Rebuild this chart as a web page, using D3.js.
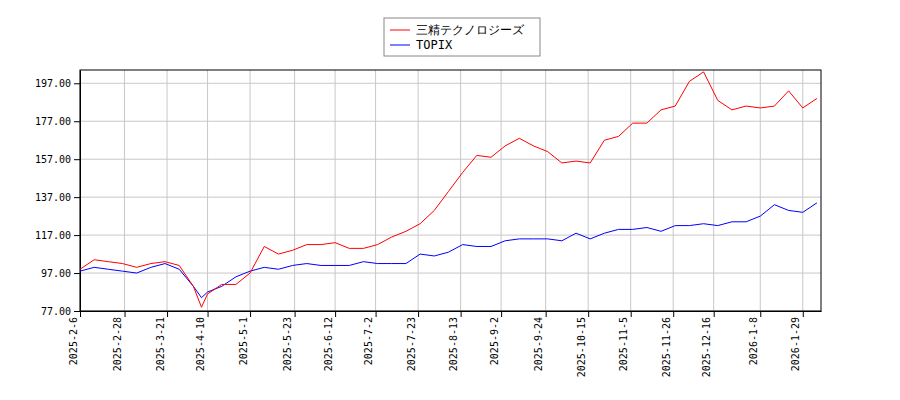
<!DOCTYPE html>
<html><head><meta charset="utf-8">
<script src="https://cdn.jsdelivr.net/npm/d3@7"></script>
<style>body{margin:0;background:#fff}text{font-family:"DejaVu Sans Mono",monospace}</style>
</head><body><div id="chart"></div>
<script>
var startDate = "2025-02-06";
var stockValues = [99,104,103,102,100,102,103,101,90,79,86,91,91,97,111,107,109,112,112,113,110,110,112,116,119,123,130,140,150,159,158,164,168,164,161,155,156,155,167,169,176,176,183,185,198,203,188,183,185,184,185,193,184,189];
var topixValues = [98,100,99,98,97,100,102,99,90,84,87,90,95,98,100,99,101,102,101,101,101,103,102,102,102,107,106,108,112,111,111,114,115,115,115,114,118,115,118,120,120,121,119,122,122,123,122,124,124,127,133,130,129,134];
var dayOffsets = [0,7,14,21,28,35,42,49,56,60,63,70,77,84,91,98,105,112,119,126,133,140,147,154,161,168,175,182,189,196,203,210,217,224,231,238,245,252,259,266,273,280,287,294,301,308,315,322,329,336,343,350,357,364];
var tickDates = ["2025-02-06","2025-02-28","2025-03-21","2025-04-10","2025-05-01","2025-05-23","2025-06-12","2025-07-02","2025-07-23","2025-08-13","2025-09-02","2025-09-24","2025-10-15","2025-11-05","2025-11-26","2025-12-16","2026-01-08","2026-01-29"];
var yTicks = [77,97,117,137,157,177,197];
var seriesNames = ["三精テクノロジーズ","TOPIX"];

var width = 900, height = 400,
    margin = {left: 80, right: 79, top: 70, bottom: 90};
var parse = d3.timeParse("%Y-%m-%d");
var t0 = parse(startDate);
var dates = dayOffsets.map(function(d){ return d3.timeDay.offset(t0, d); });

var x = d3.scaleTime()
    .domain([t0, d3.timeDay.offset(t0, 366)])
    .range([margin.left, width - margin.right]);
var y = d3.scaleLinear()
    .domain([77, 204])
    .range([height - margin.bottom + 1, margin.top]);

var svg = d3.select("#chart").append("svg")
    .attr("width", width).attr("height", height);

var xTicks = tickDates.map(parse);

svg.append("g").selectAll("line").data(xTicks).enter().append("line")
    .attr("x1", function(d){ return x(d); }).attr("x2", function(d){ return x(d); })
    .attr("y1", margin.top).attr("y2", height - margin.bottom + 1)
    .attr("stroke", "#c8c8c8");
svg.append("g").selectAll("line").data(yTicks).enter().append("line")
    .attr("x1", margin.left).attr("x2", width - margin.right)
    .attr("y1", function(d){ return y(d); }).attr("y2", function(d){ return y(d); })
    .attr("stroke", "#c8c8c8");

var fmt = function(d){ return d.getFullYear() + "-" + (d.getMonth()+1) + "-" + d.getDate(); };
var xg = svg.append("g")
    .attr("transform", "translate(0," + (height - margin.bottom + 1) + ")")
    .call(d3.axisBottom(x).tickValues(xTicks).tickFormat(fmt).tickSizeOuter(0));
xg.selectAll("text")
    .attr("transform", "rotate(-90)")
    .attr("text-anchor", "end")
    .attr("x", -6).attr("y", -4).attr("dy", 0)
    .style("font-size", "10px");

var yg = svg.append("g")
    .attr("transform", "translate(" + margin.left + ",0)")
    .call(d3.axisLeft(y).tickValues(yTicks).tickFormat(d3.format(".2f")).tickSizeOuter(0));
yg.selectAll("text").style("font-size", "10px");

svg.append("rect")
    .attr("x", margin.left).attr("y", margin.top)
    .attr("width", width - margin.left - margin.right)
    .attr("height", height - margin.bottom + 1 - margin.top)
    .attr("fill", "none").attr("stroke", "#000");

var line = d3.line()
    .x(function(d, i){ return x(dates[i]); })
    .y(function(d){ return y(d); });

svg.append("path").datum(topixValues)
    .attr("fill", "none").attr("stroke", "blue").attr("stroke-width", 1).attr("d", line);
svg.append("path").datum(stockValues)
    .attr("fill", "none").attr("stroke", "red").attr("stroke-width", 1).attr("d", line);

var lg = svg.append("g").attr("transform", "translate(384,18)");
lg.append("rect").attr("width", 156).attr("height", 38)
    .attr("fill", "#fff").attr("stroke", "#888");
var colors = ["red", "blue"];
seriesNames.forEach(function(n, i){
  lg.append("line").attr("x1", 6).attr("x2", 26)
    .attr("y1", 12 + i * 15).attr("y2", 12 + i * 15)
    .attr("stroke", colors[i]);
  lg.append("text").attr("x", 32).attr("y", 16 + i * 15)
    .style("font-size", "12px").text(n);
});
</script>
</body></html>
